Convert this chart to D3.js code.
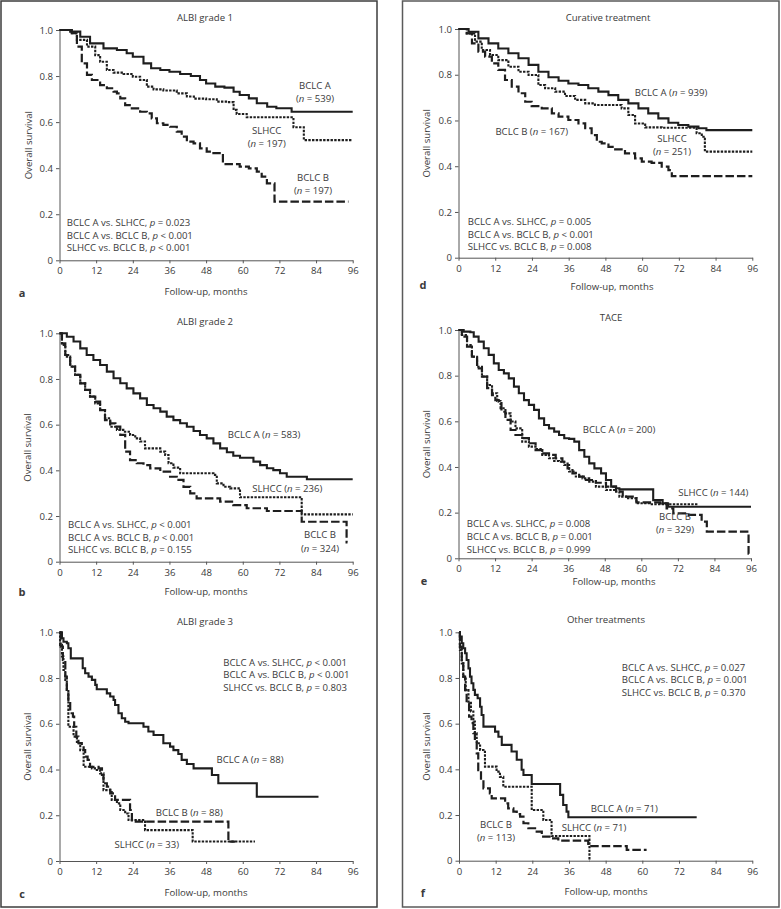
<!DOCTYPE html>
<html><head><meta charset="utf-8">
<script src="https://cdn.jsdelivr.net/npm/d3@7"></script>
<style>
body{margin:0;background:#fff}
svg{display:block}
text{font-family:"Open Sans",sans-serif;fill:#3a3a3a;white-space:pre}
</style>
</head><body>
<svg id="chart" width="781" height="909"></svg>
<script>
// ---------------- DATA (time in months, overall survival) ----------------
const xTicks = [0, 12, 24, 36, 48, 60, 72, 84, 96];
const yTicks = [0, 0.2, 0.4, 0.6, 0.8, 1.0];
const yTickLabels = ["0", "0.2", "0.4", "0.6", "0.8", "1.0"];
const panelIds = ["a", "b", "c", "d", "e", "f"];
const panelTitles = ["ALBI grade 1", "ALBI grade 2", "ALBI grade 3", "Curative treatment", "TACE", "Other treatments"];
const seriesNames = ["BCLC A", "SLHCC", "BCLC B"];

// panel a : ALBI grade 1
const a_bclcA = [[0,1],[4,0.993],[6.8,0.971],[10,0.942],[14.4,0.920],[18.8,0.913],[22,0.899],[24,0.884],[27.5,0.855],[30,0.834],[33,0.826],[36,0.819],[39.5,0.809],[43,0.800],[46,0.783],[48,0.768],[51,0.754],[54,0.750],[57,0.732],[59,0.718],[62,0.703],[64.6,0.682],[68,0.667],[71,0.660],[76,0.645],[96,0.645]];
const a_slhcc = [[0,1],[3.5,0.986],[5.7,0.957],[9,0.928],[11.7,0.891],[13.3,0.862],[15.5,0.826],[17.7,0.815],[21,0.809],[24,0.797],[26.4,0.783],[28.6,0.754],[30.8,0.742],[34,0.737],[38.4,0.725],[41.7,0.711],[44,0.702],[48,0.699],[51.5,0.689],[55,0.687],[57,0.653],[58,0.635],[61.3,0.621],[76.6,0.578],[80,0.522],[96,0.522]];
const a_bclcB = [[0,1],[4,0.986],[5.7,0.928],[7.3,0.855],[9,0.805],[10.6,0.783],[13.3,0.761],[15.5,0.747],[17.7,0.732],[18.8,0.725],[19.9,0.703],[21.5,0.674],[23,0.660],[26.4,0.645],[28.6,0.638],[30.2,0.616],[31.9,0.595],[34,0.588],[36.2,0.580],[38.4,0.559],[40,0.537],[41.7,0.515],[43.9,0.508],[46,0.486],[48.2,0.472],[50.4,0.465],[53.5,0.418],[59,0.407],[62,0.399],[64.6,0.385],[66.2,0.363],[67.9,0.334],[70.4,0.255],[94.6,0.255]];

// panel b : ALBI grade 2
const b_bclcA = [[0,1],[2.4,0.985],[4.6,0.964],[6.8,0.934],[8.9,0.905],[11.1,0.883],[13.3,0.861],[15.5,0.832],[17.7,0.803],[19.9,0.781],[22,0.759],[24.2,0.737],[26.4,0.715],[28.6,0.686],[30.8,0.672],[33,0.657],[35.1,0.635],[37.3,0.620],[39.5,0.606],[41.7,0.591],[43.9,0.572],[46,0.555],[48.2,0.540],[50.4,0.518],[52.6,0.496],[54.8,0.479],[56.9,0.464],[59.1,0.455],[63.5,0.438],[65.7,0.423],[67.9,0.409],[70,0.401],[72.2,0.387],[74.4,0.372],[81,0.361],[96,0.361]];
const b_slhcc = [[0,1],[0.8,0.949],[1.9,0.898],[3.5,0.854],[5.1,0.818],[6.8,0.781],[8.4,0.752],[10,0.723],[11.7,0.693],[13.3,0.664],[14.9,0.628],[16.6,0.591],[18.8,0.577],[20.9,0.569],[23.1,0.555],[24.8,0.540],[26.4,0.526],[28,0.496],[33,0.482],[34.6,0.467],[35.7,0.431],[37.3,0.412],[39.5,0.387],[50.4,0.380],[51.5,0.343],[53.7,0.328],[55.9,0.321],[59.1,0.282],[79.3,0.207],[96,0.207]];
const b_bclcB = [[0,1],[0.8,0.956],[1.9,0.905],[3.5,0.854],[5.1,0.818],[6.8,0.781],[8.4,0.752],[10,0.723],[11.7,0.701],[13.3,0.664],[14.9,0.620],[16.6,0.606],[18.3,0.591],[19.9,0.555],[21.5,0.482],[23.1,0.445],[25.3,0.431],[27.5,0.423],[29.7,0.409],[33,0.394],[36.2,0.372],[38.4,0.358],[40.6,0.328],[42.8,0.299],[44.9,0.277],[52.6,0.263],[56.9,0.248],[61.3,0.234],[67.9,0.222],[79.3,0.175],[94,0.085],[94.3,0.085]];

// panel c : ALBI grade 3
const c_bclcA = [[0,1],[0.8,0.974],[1.3,0.959],[2.4,0.952],[2.9,0.930],[3.7,0.886],[7.6,0.843],[8.4,0.821],[9.5,0.806],[10.6,0.792],[11.7,0.770],[12.2,0.751],[15.5,0.733],[16.6,0.719],[17.7,0.704],[18.2,0.682],[19.3,0.646],[20.4,0.624],[21.5,0.609],[22.6,0.602],[27.5,0.587],[29.1,0.566],[30.8,0.551],[34,0.515],[36.2,0.500],[37.3,0.485],[38.9,0.468],[40,0.442],[41.7,0.424],[43.9,0.405],[49.9,0.376],[52,0.340],[64.6,0.281],[84.8,0.281]];
const c_slhcc = [[0,1],[0.2,0.945],[0.8,0.894],[1.3,0.835],[1.9,0.792],[2.4,0.748],[2.9,0.587],[4.6,0.544],[5.7,0.515],[6.8,0.485],[7.9,0.412],[10.6,0.405],[12.2,0.398],[13.3,0.383],[14.4,0.310],[17.1,0.267],[18.8,0.252],[19.9,0.223],[21.5,0.208],[22.6,0.179],[28,0.135],[43.6,0.085],[64,0.085]];
const c_bclcB = [[0,1],[0.4,0.937],[1.1,0.879],[1.9,0.806],[2.4,0.748],[2.9,0.690],[3.5,0.646],[4.4,0.631],[4.8,0.587],[5.5,0.544],[6.2,0.515],[7.3,0.512],[7.9,0.485],[8.4,0.456],[9.2,0.442],[10,0.412],[12.8,0.405],[13.9,0.376],[14.4,0.340],[15.5,0.325],[16.6,0.296],[18.2,0.267],[23.1,0.223],[23.7,0.172],[55.3,0.085],[57.5,0.085]];

// panel d : Curative treatment
const d_bclcA = [[0,1],[3.3,0.988],[6.5,0.959],[9.8,0.937],[13,0.915],[16.3,0.894],[19.6,0.872],[22.9,0.843],[26.1,0.813],[29.4,0.789],[32.7,0.774],[35.9,0.762],[39.2,0.755],[42.4,0.741],[45.7,0.726],[49,0.711],[52.2,0.690],[55.5,0.675],[58.8,0.653],[62,0.631],[65.3,0.609],[68.6,0.590],[71.8,0.580],[75.1,0.573],[78.4,0.566],[81,0.558],[96,0.558]];
const d_slhcc = [[0,1],[2.7,0.981],[5.4,0.945],[7.6,0.908],[10.3,0.886],[13,0.864],[16.3,0.835],[19.6,0.813],[22.9,0.799],[26.1,0.755],[28.3,0.741],[31.6,0.726],[34.8,0.707],[38.1,0.690],[41.4,0.675],[44.6,0.668],[53.3,0.653],[55.5,0.624],[57.7,0.587],[61,0.570],[66.4,0.568],[77.8,0.544],[79.5,0.529],[80.5,0.464],[96,0.464]];
const d_bclcB = [[0,1],[2.7,0.981],[4.4,0.937],[6.5,0.901],[8.7,0.879],[10.9,0.850],[13,0.821],[15.2,0.777],[17.4,0.748],[19.6,0.719],[21.8,0.682],[23.9,0.663],[27.2,0.653],[30.5,0.631],[32.7,0.617],[35.9,0.602],[39.2,0.587],[41.4,0.566],[43.5,0.536],[45.2,0.507],[46.8,0.500],[49,0.485],[51.2,0.474],[54.4,0.456],[57.7,0.434],[59.9,0.420],[63.1,0.415],[66.4,0.398],[68.6,0.383],[69.7,0.357],[96,0.357]];

// panel e : TACE
const e_bclcA = [[0,1],[1.7,0.993],[3.9,0.990],[5,0.971],[6.6,0.949],[8.3,0.920],[9.9,0.891],[11.6,0.854],[13.2,0.825],[14.9,0.810],[16.5,0.788],[18.2,0.752],[19.8,0.723],[21.5,0.693],[23.1,0.672],[24.8,0.650],[26.4,0.613],[28.1,0.584],[29.7,0.569],[31.4,0.555],[33,0.540],[34.7,0.526],[36.3,0.523],[38,0.511],[39.6,0.474],[41.3,0.445],[42.9,0.416],[44.6,0.394],[46.8,0.372],[48.4,0.343],[50.1,0.314],[51.7,0.307],[52.8,0.302],[63.9,0.255],[67,0.241],[68.8,0.226],[96,0.226]];
const e_slhcc = [[0,1],[1.1,0.978],[2.8,0.934],[4.4,0.883],[6.1,0.839],[7.7,0.796],[9.4,0.759],[11,0.723],[12.7,0.689],[13.8,0.657],[15.4,0.635],[17.1,0.599],[18.7,0.569],[20.9,0.511],[23.1,0.489],[25.3,0.479],[27.5,0.453],[29.7,0.438],[31.4,0.426],[33,0.423],[34.7,0.409],[36.3,0.380],[38.5,0.358],[40.7,0.350],[42.9,0.336],[45.1,0.314],[48.4,0.299],[51.7,0.292],[52.8,0.270],[55,0.263],[58.4,0.241],[62.8,0.237],[78.7,0.237]];
const e_bclcB = [[0,1],[1.1,0.971],[2.8,0.927],[4.4,0.883],[6.1,0.832],[7.7,0.796],[9.4,0.745],[11,0.715],[12.1,0.693],[13.2,0.686],[14.1,0.642],[15.4,0.606],[17.1,0.562],[18.7,0.540],[20.9,0.526],[23.1,0.504],[25.3,0.474],[27.5,0.460],[29.7,0.453],[31.9,0.438],[34.1,0.423],[35.8,0.394],[37.4,0.372],[39.6,0.358],[41.8,0.343],[45.1,0.331],[48.4,0.314],[51.7,0.292],[53.9,0.270],[58.4,0.245],[66.1,0.241],[68.3,0.219],[70.5,0.197],[74.9,0.190],[79.8,0.161],[81.5,0.117],[95.2,0.020],[95.3,0.020]];

// panel f : Other treatments
const f_bclcA = [[0,1],[0.3,0.981],[0.9,0.952],[1.4,0.930],[2,0.908],[2.5,0.879],[3.1,0.842],[3.6,0.806],[4.1,0.777],[4.7,0.748],[5.2,0.726],[6.1,0.711],[6.9,0.674],[7.4,0.638],[8,0.587],[11.8,0.565],[12.9,0.543],[14,0.507],[17.2,0.478],[18.9,0.442],[20.5,0.398],[21.1,0.375],[23.8,0.336],[33.1,0.288],[34.1,0.244],[35.2,0.215],[35.8,0.190],[77.8,0.190]];
const f_slhcc = [[0,1],[0.3,0.923],[0.9,0.864],[1.4,0.806],[2.2,0.747],[3.1,0.696],[3.9,0.653],[4.7,0.609],[5.2,0.558],[5.8,0.514],[6.9,0.485],[8,0.477],[8.5,0.412],[12.3,0.390],[13.4,0.367],[14.5,0.324],[23.8,0.222],[27.6,0.178],[30.3,0.108],[42.7,0],[42.8,0]];
const f_bclcB = [[0,1],[0.3,0.937],[0.9,0.864],[1.4,0.806],[2,0.747],[2.5,0.689],[3.3,0.631],[4.1,0.602],[4.7,0.558],[5.2,0.521],[5.8,0.470],[6.3,0.397],[7.2,0.353],[8,0.317],[10.1,0.295],[10.7,0.273],[15.1,0.251],[16.1,0.229],[17.8,0.215],[18.9,0.204],[20,0.193],[21.1,0.164],[22.7,0.142],[24.9,0.127],[27.1,0.105],[30.3,0.098],[32.5,0.088],[42.3,0.064],[54.9,0.047],[61.4,0.047]];

const panelSeries = [
  [a_bclcA, a_slhcc, a_bclcB],
  [b_bclcA, b_slhcc, b_bclcB],
  [c_bclcA, c_slhcc, c_bclcB],
  [d_bclcA, d_slhcc, d_bclcB],
  [e_bclcA, e_slhcc, e_bclcB],
  [f_bclcA, f_slhcc, f_bclcB]
];

// p-value texts
const pTexts = [
  ["BCLC A vs. SLHCC, p = 0.023", "BCLC A vs. BCLC B, p < 0.001", "SLHCC vs. BCLC B, p < 0.001"],
  ["BCLC A vs. SLHCC, p < 0.001", "BCLC A vs. BCLC B, p < 0.001", "SLHCC vs. BCLC B, p = 0.155"],
  ["BCLC A vs. SLHCC, p < 0.001", "BCLC A vs. BCLC B, p < 0.001", "SLHCC vs. BCLC B, p = 0.803"],
  ["BCLC A vs. SLHCC, p = 0.005", "BCLC A vs. BCLC B, p < 0.001", "SLHCC vs. BCLC B, p = 0.008"],
  ["BCLC A vs. SLHCC, p = 0.008", "BCLC A vs. BCLC B, p = 0.001", "SLHCC vs. BCLC B, p = 0.999"],
  ["BCLC A vs. SLHCC, p = 0.027", "BCLC A vs. BCLC B, p = 0.001", "SLHCC vs. BCLC B, p = 0.370"]
];
// curve label texts (lines)
const curveLabelTexts = [
  [["BCLC A", "(n = 539)"], ["SLHCC", "(n = 197)"], ["BCLC B", "(n = 197)"]],
  [["BCLC A (n = 583)"], ["SLHCC (n = 236)"], ["BCLC B", "(n = 324)"]],
  [["BCLC A (n = 88)"], ["SLHCC (n = 33)"], ["BCLC B (n = 88)"]],
  [["BCLC A (n = 939)"], ["SLHCC", "(n = 251)"], ["BCLC B (n = 167)"]],
  [["BCLC A (n = 200)"], ["SLHCC (n = 144)"], ["BCLC B", "(n = 329)"]],
  [["BCLC A (n = 71)"], ["SLHCC (n = 71)"], ["BCLC B", "(n = 113)"]]
];

// ---------------- LAYOUT ----------------
const layout = [
  {x0:59.5, x1:352.7, yT:30,    yB:260.3, tX:205, tY:17,  xlX:206, xlY:291, ylX:28,  lX:22,  lY:292, pX:66.7,  pY:222,
   lab:[[315,85],[266.7,130],[313,177]]},
  {x0:59.5, x1:352.7, yT:333.3, yB:561.7, tX:205, tY:321, xlX:206, xlY:591, ylX:27,  lX:22,  lY:591, pX:68,  pY:524,
   lab:[[264,434.3],[287.3,488.3],[320,534.3]]},
  {x0:59.5, x1:352.7, yT:632.3, yB:861,   tX:205, tY:621, xlX:206, xlY:892, ylX:27,  lX:22,  lY:893, pX:223.3, pY:661.7,
   lab:[[250,759],[146.7,844],[189.3,811.7]]},
  {x0:458.5, x1:752.3, yT:29,   yB:257.7, tX:608, tY:17,  xlX:612, xlY:286, ylX:426, lX:423, lY:284, pX:467.7, pY:221,
   lab:[[671,92],[672,138],[531.7,130.7]]},
  {x0:458.5, x1:751,  yT:330,   yB:558.3, tX:611, tY:317, xlX:614, xlY:581, ylX:426, lX:424, lY:580, pX:466.7, pY:523.3,
   lab:[[619,429.3],[713.3,492.3],[675,515.7]]},
  {x0:459, x1:752.3,  yT:632.3, yB:860.7, tX:606, tY:619, xlX:606, xlY:891, ylX:426, lX:423, lY:892, pX:621.7, pY:666.7,
   lab:[[624.3,807.7],[594,827.3],[496,824]]}
];
const seriesStyle = [
  {w:2.1, dash:null},
  {w:2.1, dash:"2.4,1.3"},
  {w:2.2, dash:"8.5,3"}
];
const FS = 9.6, LINE_H = 12.6;

const svg = d3.select("#chart");
// frames
svg.append("rect").attr("x",1).attr("y",1).attr("width",376).attr("height",906)
  .attr("fill","none").attr("stroke","#3c3c3c").attr("stroke-width",1.5);
svg.append("rect").attr("x",402.5).attr("y",1).attr("width",376.5).attr("height",906)
  .attr("fill","none").attr("stroke","#5a5a5a").attr("stroke-width",1.5);

function rich(sel, str){
  str.split(/(\b[np](?= [=<]))/).forEach(p => {
    if (!p) return;
    const t = sel.append("tspan").text(p);
    if (/^[np]$/.test(p)) t.style("font-style","italic");
  });
}

panelIds.forEach((id, i) => {
  const L = layout[i];
  const x = d3.scaleLinear().domain([0,96]).range([L.x0, L.x1]);
  const y = d3.scaleLinear().domain([0,1]).range([L.yB, L.yT]);
  const g = svg.append("g");

  // axes
  const xa = g.append("g").attr("transform",`translate(0,${L.yB})`)
    .call(d3.axisBottom(x).tickValues(xTicks).tickSize(3).tickPadding(4).tickSizeOuter(0));
  const ya = g.append("g").attr("transform",`translate(${L.x0},0)`)
    .call(d3.axisLeft(y).tickValues(yTicks).tickFormat((d,k)=>yTickLabels[k]).tickSize(3.5).tickPadding(3).tickSizeOuter(0));
  [xa, ya].forEach(a => {
    a.selectAll("path,line").attr("stroke","#555").attr("stroke-width",1);
    a.selectAll("text").attr("font-family",'"Open Sans",sans-serif').attr("font-size",FS).attr("fill","#3a3a3a");
  });

  // curves
  const line = d3.line().x(d=>x(d[0])).y(d=>y(d[1])).curve(d3.curveStepAfter);
  panelSeries[i].forEach((s, k) => {
    const st = seriesStyle[k];
    g.append("path").datum(s).attr("d", line)
      .attr("fill","none").attr("stroke","#1e1e1e").attr("stroke-width",st.w)
      .attr("stroke-dasharray", st.dash);
  });

  // title
  g.append("text").attr("x",L.tX).attr("y",L.tY).attr("text-anchor","middle")
    .attr("dominant-baseline","central").attr("font-size",FS).text(panelTitles[i]);
  // axis titles
  g.append("text").attr("x",L.xlX).attr("y",L.xlY).attr("text-anchor","middle")
    .attr("dominant-baseline","central").attr("font-size",FS).text("Follow-up, months");
  g.append("text").attr("transform",`translate(${L.ylX},${(L.yT+L.yB)/2}) rotate(-90)`)
    .attr("text-anchor","middle").attr("dominant-baseline","central").attr("font-size",FS).text("Overall survival");
  // panel letter
  g.append("text").attr("x",L.lX).attr("y",L.lY).attr("text-anchor","middle")
    .attr("dominant-baseline","central").attr("font-size",11).attr("font-weight","bold").attr("fill","#222").text(id);

  // p-values
  pTexts[i].forEach((t, k) => {
    const te = g.append("text").attr("x",L.pX).attr("y",L.pY + k*LINE_H)
      .attr("dominant-baseline","central").attr("font-size",FS);
    rich(te, t);
  });

  // curve labels
  curveLabelTexts[i].forEach((lines, k) => {
    const [cx, cy] = L.lab[k];
    lines.forEach((ln, j) => {
      const te = g.append("text").attr("x",cx).attr("y",cy + j*13.2).attr("text-anchor","middle")
        .attr("dominant-baseline","central").attr("font-size",FS);
      rich(te, ln);
    });
  });
});
</script>
</body></html>
